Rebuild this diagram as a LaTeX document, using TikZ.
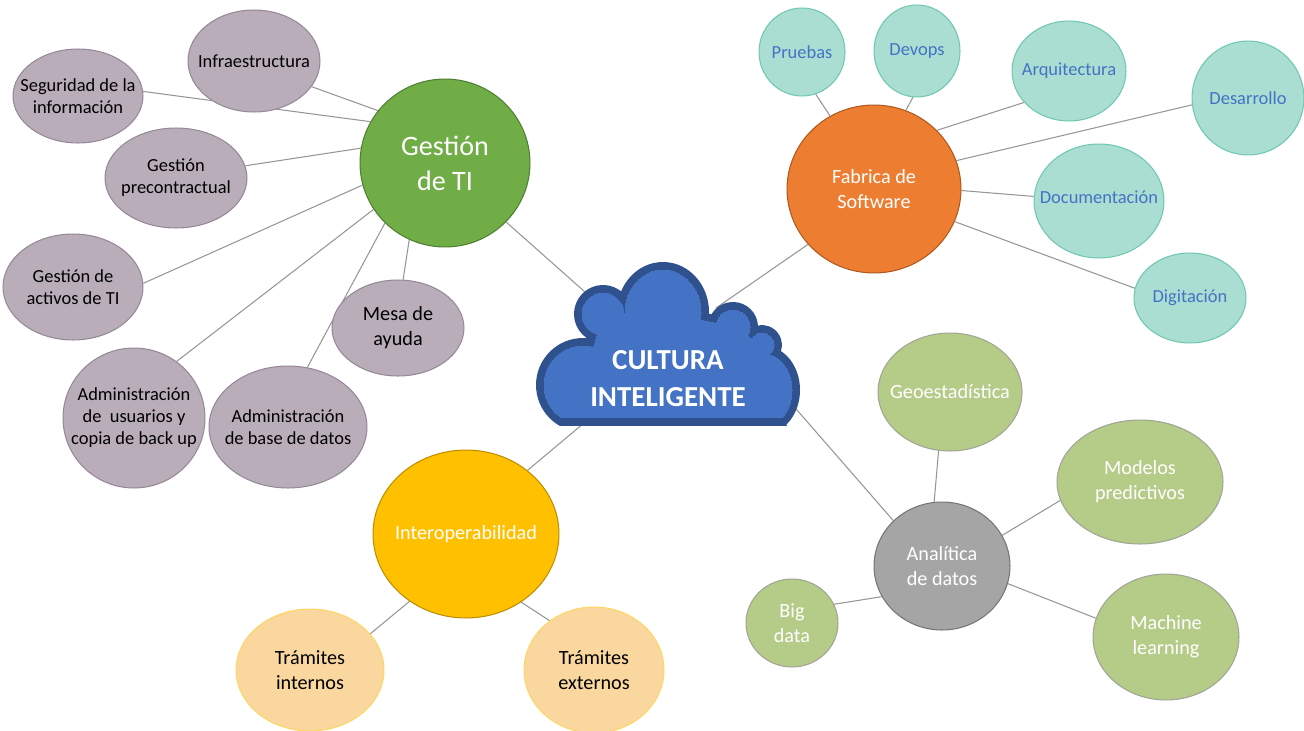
\documentclass[tikz,border=0pt]{standalone}
\usepackage{fontspec}
\setmainfont{Carlito}
\usetikzlibrary{shapes.geometric,backgrounds}
\definecolor{mauvefill}{RGB}{185,173,186}
\definecolor{mauveline}{RGB}{150,136,152}
\definecolor{greenfill}{RGB}{112,173,71}
\definecolor{greenline}{RGB}{80,126,50}
\definecolor{tealfill}{RGB}{170,222,211}
\definecolor{tealline}{RGB}{112,200,176}
\definecolor{tealtext}{RGB}{68,114,196}
\definecolor{orangefill}{RGB}{237,125,49}
\definecolor{orangeline}{RGB}{174,90,33}
\definecolor{grayfill}{RGB}{165,165,165}
\definecolor{grayline}{RGB}{118,118,118}
\definecolor{olivefill}{RGB}{181,203,136}
\definecolor{oliveline}{RGB}{160,165,150}
\definecolor{yellowfill}{RGB}{255,192,0}
\definecolor{yellowline}{RGB}{190,142,0}
\definecolor{peachfill}{RGB}{249,215,158}
\definecolor{peachline}{RGB}{255,214,100}
\definecolor{cloudfill}{RGB}{68,114,196}
\definecolor{cloudline}{RGB}{47,82,143}
\definecolor{linkgray}{RGB}{150,150,150}

\tikzset{
  sz/.style 2 args={minimum width=#1*0.04cm, minimum height=#2*0.04cm},
  bubble/.style={ellipse, draw, line width=0.6pt, inner sep=-30pt, align=center},
  small/.style={font=\fontsize{10.5}{12.5}\selectfont},
  mid/.style={font=\fontsize{11.5}{14.2}\selectfont},
  mauve/.style={bubble, small, fill=mauvefill, draw=mauveline},
  teal/.style={bubble, small, fill=tealfill, draw=tealline, text=tealtext},
  olive/.style={bubble, mid, fill=olivefill, draw=oliveline, text=white},
  peach/.style={bubble, mid, fill=peachfill, draw=peachline},
  link/.style={draw=linkgray, line width=0.6pt}
}

\begin{document}
\begin{tikzpicture}[x=0.02cm, y=-0.02cm]
	\useasboundingbox (0,0) rectangle (1304,730);

	% cloud: parts stroked wide in dark blue, then filled again in blue
	\foreach \col/\ybot/\w in {cloudline/425/0.32cm, cloudfill/417/0pt}{
		\begin{scope}
			\clip (520,250) rectangle (820,\ybot);
			\filldraw[\col, line width=\w, line join=round]
				(583,385) circle (39)
				(603,314) circle (21)
				(663,312) ellipse (38 and 42)
				(733,327) circle (17)
				(762,345) circle (12)
				(764,390) ellipse (28 and 36);
			\filldraw[\col, line width=\w, line join=round]
				(583,385) -- (603,314) -- (663,312) -- (733,327) -- (762,345) -- (764,390) -- (780,430) -- (575,430) -- cycle;
		\end{scope}
	}
	\node[text=white, align=center, font=\fontsize{16.5}{21}\selectfont\bfseries] (cloud) at (668,379) {CULTURA\\INTELIGENTE};
	\coordinate (cl-nw) at (594,300);
	\coordinate (cl-ne) at (716,308);
	\coordinate (cl-se) at (790,402);
	\coordinate (cl-sw) at (590,418);

	% Gestion de TI
	\node[bubble, fill=greenfill, draw=greenline, text=white, sz={85}{84}, font=\fontsize{16}{20}\selectfont] (gti) at (445,163) {Gestión\\de TI};
	\node[mauve, sz={66}{51}] (infra) at (254,61) {Infraestructura};
	\node[mauve, sz={65}{47}] (segur) at (78,96) {Seguridad de la\\información};
	\node[mauve, sz={71}{50}] (precon) at (176,178) {Gestión\\precontractual};
	\node[mauve, sz={70}{53}] (activos) at (73,287) {Gestión de\\activos de TI};
	\node[mauve, sz={71}{70}] (usuarios) at (134,418) {Administración\\de~ usuarios y\\copia de back up};
	\node[mauve, sz={79}{61}] (basedatos) at (288,427) {Administración\\de base de datos};
	\node[mauve, mid, sz={66}{48}] (mesa) at (398,328) {Mesa de\\ayuda};

	% Fabrica de Software
	\node[bubble, mid, fill=orangefill, draw=orangeline, text=white, sz={87}{84}] (fabrica) at (874,189) {Fabrica de\\Software};
	\node[teal, sz={43}{44}] (pruebas) at (802,52) {Pruebas};
	\node[teal, sz={43}{46}] (devops) at (917,51) {Devops};
	\node[teal, sz={57}{50}] (arqui) at (1069,71) {Arquitectura};
	\node[teal, sz={56}{57}] (desarrollo) at (1248,98) {Desarrollo};
	\node[teal, sz={65}{57}] (docu) at (1099,201) {\raisebox{4pt}{Documentación}};
	\node[teal, sz={56}{45}] (digita) at (1190,298) {Digitación};

	% Analitica de datos
	\node[bubble, mid, fill=grayfill, draw=grayline, text=white, sz={68}{64}] (analitica) at (942,566) {Analítica\\de datos};
	\node[olive, sz={72}{59}] (geo) at (950,392) {Geoestadística};
	\node[olive, sz={83}{62}] (modelos) at (1140,482) {Modelos\\predictivos};
	\node[olive, sz={73}{63}] (machine) at (1166,637) {Machine\\learning};
	\node[olive, sz={46}{44}] (bigdata) at (792,623) {Big\\data};

	% Interoperabilidad
	\node[bubble, mid, fill=yellowfill, draw=yellowline, text=white, sz={93}{84}] (interop) at (466,534) {Interoperabilidad};
	\node[peach, sz={74}{61}] (internos) at (310,670) {Trámites\\internos};
	\node[peach, sz={70}{63}] (externos) at (594,670) {Trámites\\externos};

	% links
	\begin{scope}[on background layer]
		\draw[link] (gti.142) -- (infra.336);
		\draw[link] (gti.151) -- (segur.4);
		\draw[link] (gti.170) -- (precon.10);
		\draw[link] (gti.195) -- (activos.3);
		\draw[link] (gti.213) -- (usuarios.53);
		\draw[link] (gti.225) -- (basedatos.72);
		\draw[link] (gti.245) -- (mesa.84);
		\draw[link] (gti.316) -- (cl-nw);
		\draw[link] (fabrica.121) -- (pruebas.288);
		\draw[link] (fabrica.68) -- (devops.265);
		\draw[link] (fabrica.43) -- (arqui.215);
		\draw[link] (fabrica.19) -- (desarrollo.187);
		\draw[link] (fabrica.-1) -- (docu.176);
		\draw[link] (fabrica.-22) -- (digita.170);
		\draw[link] (fabrica.220) -- (cl-ne);
		\draw[link] (analitica.97) -- (geo.259);
		\draw[link] (analitica.27) -- (modelos.193);
		\draw[link] (analitica.-15) -- (machine.165);
		\draw[link] (analitica.207) -- (bigdata.24);
		\draw[link] (analitica.137) -- (cl-se);
		\draw[link] (interop.46) -- (cl-sw);
		\draw[link] (interop.230) -- (internos.31);
		\draw[link] (interop.309) -- (externos.132);
	\end{scope}
\end{tikzpicture}
\end{document}
